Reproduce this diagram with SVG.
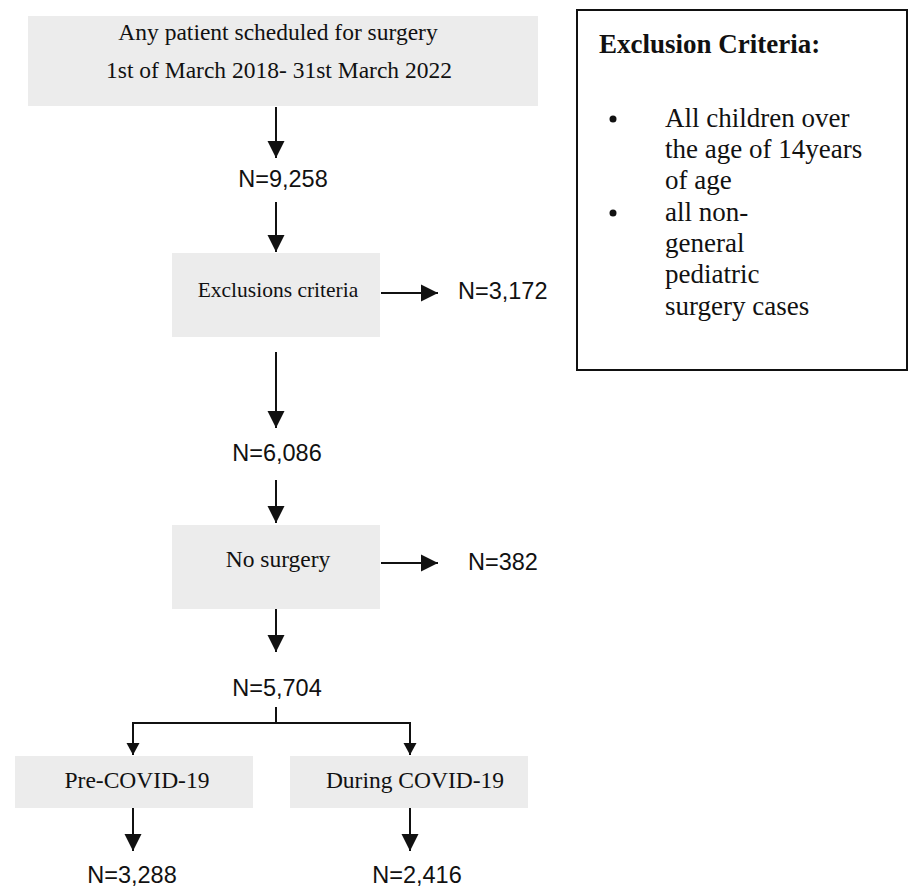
<svg xmlns="http://www.w3.org/2000/svg" width="910" height="887" viewBox="0 0 910 887">
<style>
.box{fill:#ececec;stroke:none}
.serif{font-family:"Liberation Serif","Times New Roman",serif;fill:#111}
.sans{font-family:"Liberation Sans",Arial,sans-serif;fill:#111;font-size:23.5px}
.conn{stroke:#111;stroke-width:2;fill:none}
.arr{marker-end:url(#ah)}
.arrs{marker-end:url(#ahs)}
</style>
<defs>
<marker id="ah" markerUnits="userSpaceOnUse" markerWidth="18" markerHeight="18" viewBox="0 0 18 18" refX="17" refY="9" orient="auto">
<path d="M0,0.5 L17,9 L0,17.5 Z" fill="#111"/>
</marker>
<marker id="ahs" markerUnits="userSpaceOnUse" markerWidth="14" markerHeight="14" viewBox="0 0 14 14" refX="12" refY="7" orient="auto">
<path d="M0,0.5 L12,7 L0,13.5 Z" fill="#111"/>
</marker>
</defs>
<rect width="910" height="887" fill="#fff"/>
<g id="connectors">
<line class="conn arr" x1="276" y1="107" x2="276" y2="158"/>
<line class="conn arr" x1="276" y1="202" x2="276" y2="252"/>
<line class="conn arr" x1="381" y1="293" x2="438" y2="293"/>
<line class="conn arr" x1="276" y1="352" x2="276" y2="428"/>
<line class="conn arr" x1="276" y1="480" x2="276" y2="523"/>
<line class="conn arr" x1="381" y1="563" x2="438" y2="563"/>
<line class="conn arr" x1="276" y1="609" x2="276" y2="652"/>
<polyline class="conn" points="276,707 276,723"/>
<polyline class="conn arrs" points="276,723 133,723 133,755"/>
<polyline class="conn arrs" points="276,723 410,723 410,755"/>
<line class="conn arr" x1="133" y1="808" x2="133" y2="851"/>
<line class="conn arr" x1="410" y1="808" x2="410" y2="851"/>
</g>
<g id="start">
<rect class="box" x="28" y="16" width="510" height="90"/>
<text class="serif" font-size="23.5" x="278" y="40" text-anchor="middle">Any patient scheduled for surgery</text>
<text class="serif" font-size="23.5" x="279" y="78" text-anchor="middle">1st of March 2018- 31st March 2022</text>
</g>
<g id="n9258"><text class="sans" x="283" y="187" text-anchor="middle">N=9,258</text></g>
<g id="exclusions">
<rect class="box" x="172" y="253" width="208" height="84"/>
<text class="serif" font-size="21.5" x="278" y="297" text-anchor="middle">Exclusions criteria</text>
</g>
<g id="n3172"><text class="sans" x="458" y="299">N=3,172</text></g>
<g id="n6086"><text class="sans" x="277" y="461" text-anchor="middle">N=6,086</text></g>
<g id="nosurgery">
<rect class="box" x="172" y="525" width="208" height="84"/>
<text class="serif" font-size="23.5" x="278" y="567" text-anchor="middle">No surgery</text>
</g>
<g id="n382"><text class="sans" x="468" y="570">N=382</text></g>
<g id="n5704"><text class="sans" x="277" y="696" text-anchor="middle">N=5,704</text></g>
<g id="precovid">
<rect class="box" x="15" y="756" width="238" height="52"/>
<text class="serif" font-size="23.5" x="137" y="788" text-anchor="middle">Pre-COVID-19</text>
</g>
<g id="duringcovid">
<rect class="box" x="290" y="756" width="238" height="52"/>
<text class="serif" font-size="23.5" x="415" y="788" text-anchor="middle">During COVID-19</text>
</g>
<g id="n3288"><text class="sans" x="132" y="883" text-anchor="middle">N=3,288</text></g>
<g id="n2416"><text class="sans" x="417" y="883" text-anchor="middle">N=2,416</text></g>
<g id="criteria">
<rect x="577" y="10" width="330" height="360" fill="#fff" stroke="#111" stroke-width="2"/>
<text class="serif" font-size="27" font-weight="bold" x="599" y="53">Exclusion Criteria:</text>
<circle cx="613" cy="119" r="3.5" fill="#111"/>
<circle cx="613" cy="213" r="3.5" fill="#111"/>
<text class="serif" font-size="27">
<tspan x="665" y="127">All children over</tspan>
<tspan x="665" y="158">the age of 14years</tspan>
<tspan x="665" y="189">of age</tspan>
<tspan x="665" y="221">all non-</tspan>
<tspan x="665" y="252">general</tspan>
<tspan x="665" y="283">pediatric</tspan>
<tspan x="665" y="315">surgery cases</tspan>
</text>
</g>
</svg>
